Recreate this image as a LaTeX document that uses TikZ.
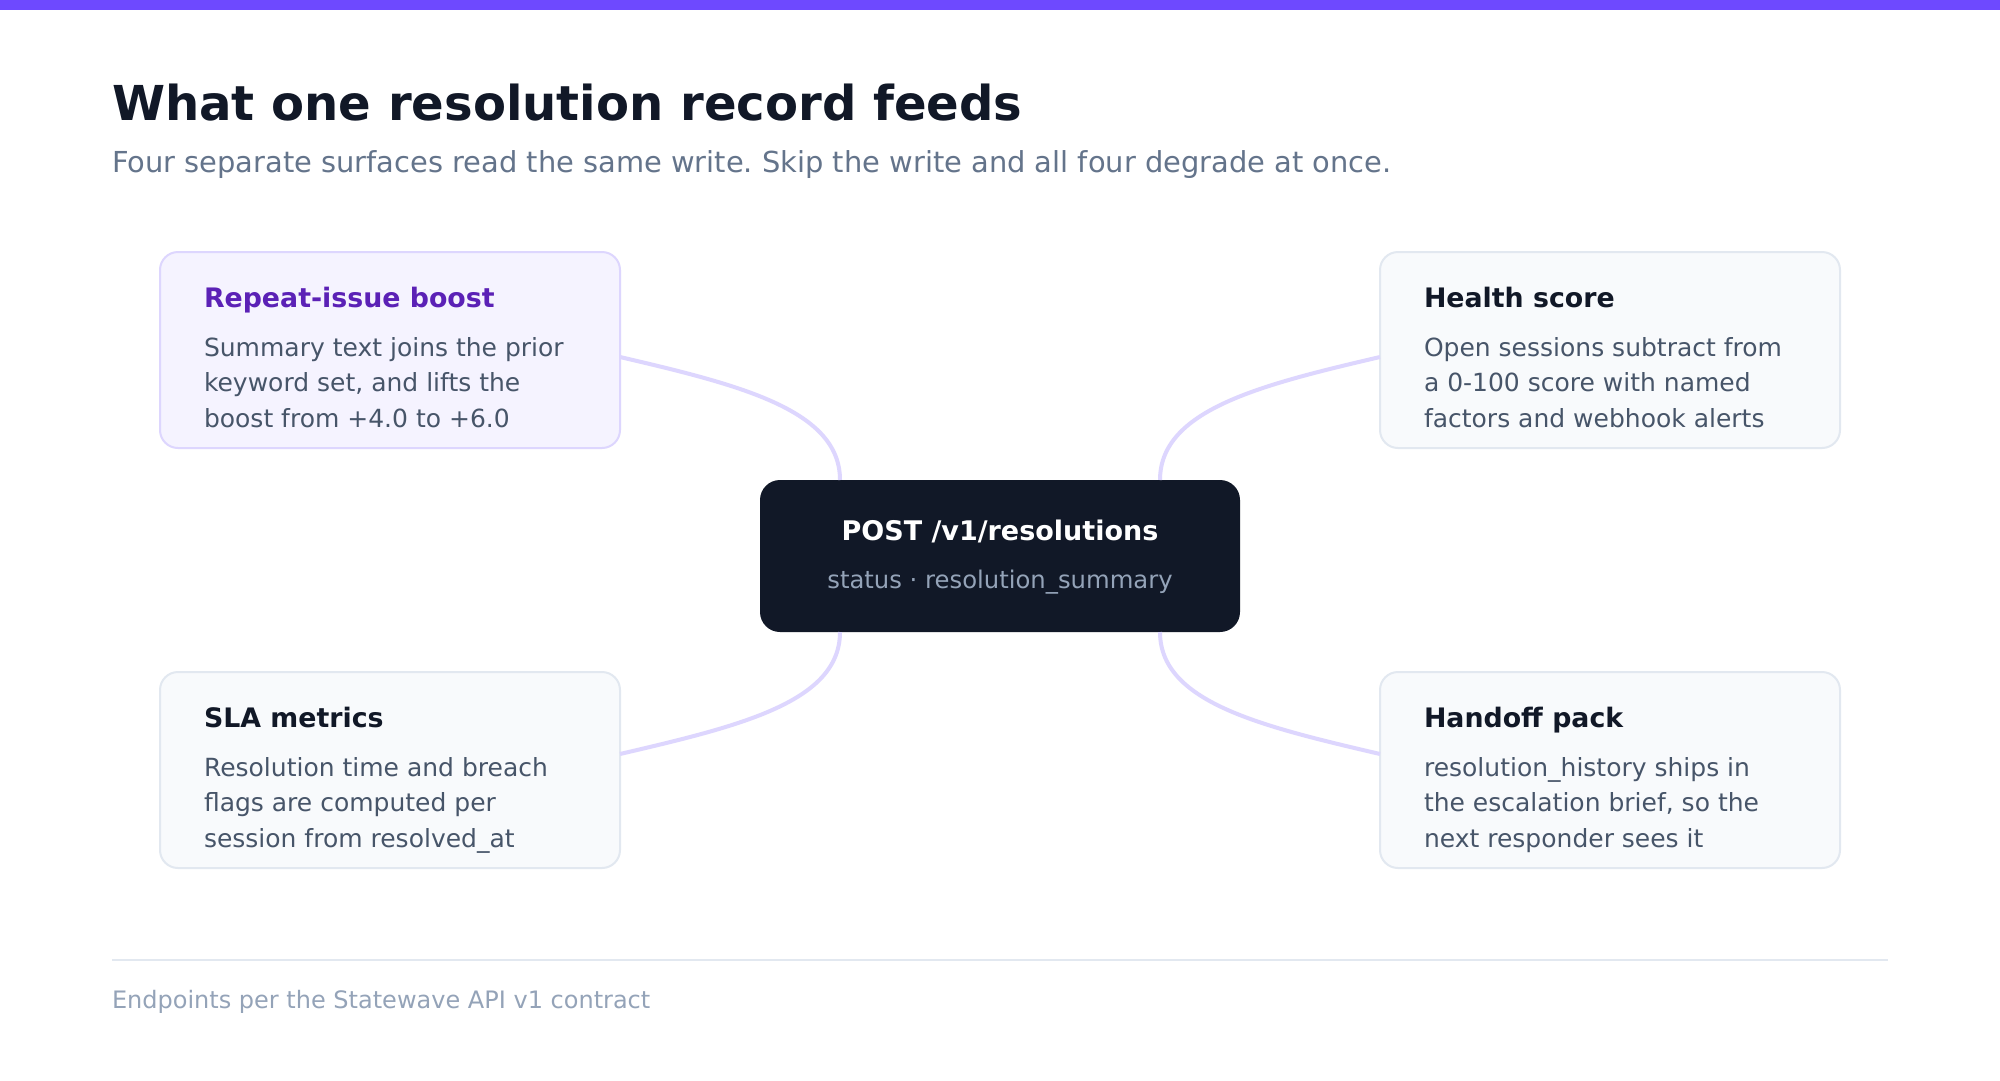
\documentclass[tikz,border=0pt]{standalone}
\usepackage{fontspec}
\setmainfont{DejaVu Sans}
\frenchspacing
\begin{document}
\begin{tikzpicture}[x=1pt,y=-1pt,
  every node/.style={inner sep=0pt,outer sep=0pt},
  purplecard/.style={draw=cardpurpleline,line width=2pt,fill=cardpurple,rounded corners=18pt,minimum width=460pt,minimum height=196pt},
  graycard/.style={draw=cardgrayline,line width=2pt,fill=cardgray,rounded corners=18pt,minimum width=460pt,minimum height=196pt},
  cardtitle/.style={anchor=base west,text=titledark,font=\fontsize{26.8}{30}\selectfont\bfseries},
  cardbody/.style={anchor=base west,text=bodygray,font=\fontsize{25}{30}\selectfont},
  link/.style={draw=linkcol,line width=4pt}
]
\definecolor{barcol}{HTML}{6E49FF}
\definecolor{titledark}{HTML}{111827}
\definecolor{subgray}{HTML}{64748B}
\definecolor{cardpurple}{HTML}{F5F3FF}
\definecolor{cardpurpleline}{HTML}{DDD6FE}
\definecolor{cardgray}{HTML}{F8FAFC}
\definecolor{cardgrayline}{HTML}{E2E8F0}
\definecolor{purpletext}{HTML}{5B21B6}
\definecolor{bodygray}{HTML}{475569}
\definecolor{centerfill}{HTML}{111827}
\definecolor{centersub}{HTML}{94A3B8}
\definecolor{linkcol}{HTML}{DDD6FE}
\definecolor{footgray}{HTML}{94A3B8}

\useasboundingbox[fill=white] (0,0) rectangle (2000,1080);
\fill[barcol] (0,0) rectangle (2000,10);

\node[anchor=base west,text=titledark,font=\fontsize{48.1}{56}\selectfont\bfseries] (title) at (112,120) {What one resolution record feeds};
\node[anchor=base west,text=subgray,font=\fontsize{28.9}{32}\selectfont] (subtitle) at (112,172) {Four separate surfaces read the same write. Skip the write and all four degrade at once.};

% cards
\node[purplecard] (tl) at (390,350) {};
\node[graycard] (tr) at (1610,350) {};
\node[graycard] (bl) at (390,770) {};
\node[graycard] (br) at (1610,770) {};

% center
\node[fill=centerfill,rounded corners=20pt,minimum width=480pt,minimum height=152pt] (center) at (1000,556) {};
\node[anchor=base,text=white,font=\fontsize{27}{32}\selectfont\bfseries] (ctitle) at (1000,540) {POST /v1/resolutions};
\node[anchor=base,text=centersub,font=\fontsize{24.3}{30}\selectfont] (csub) at (1000,588) {status · resolution\_summary};

% connectors
\path (tl.east) ++(0,7) coordinate (tlp);
\path (tr.west) ++(0,7) coordinate (trp);
\path (bl.east) ++(0,-16) coordinate (blp);
\path (br.west) ++(0,-16) coordinate (brp);
\path (center.north west) ++(80,0) coordinate (cnw);
\path (center.north east) ++(-80,0) coordinate (cne);
\path (center.south west) ++(80,0) coordinate (csw);
\path (center.south east) ++(-80,0) coordinate (cse);
\draw[link] (tlp) .. controls +(120,28) and +(0,-70) .. (cnw);
\draw[link] (trp) .. controls +(-120,28) and +(0,-70) .. (cne);
\draw[link] (blp) .. controls +(120,-28) and +(0,70) .. (csw);
\draw[link] (brp) .. controls +(-120,-28) and +(0,70) .. (cse);

% card texts
\node[cardtitle,text=purpletext] (tlt) at (204,307) {Repeat-issue boost};
\node[cardbody] (tl1) at (204,356) {Summary text joins the prior};
\node[cardbody] (tl2) at (204,391) {keyword set, and lifts the};
\node[cardbody] (tl3) at (204,427) {boost from +4.0 to +6.0};

\node[cardtitle] (trt) at (1424,307) {Health score};
\node[cardbody] (tr1) at (1424,356) {Open sessions subtract from};
\node[cardbody] (tr2) at (1424,391) {a 0-100 score with named};
\node[cardbody] (tr3) at (1424,427) {factors and webhook alerts};

\node[cardtitle] (blt) at (204,727) {SLA metrics};
\node[cardbody] (bl1) at (204,776) {Resolution time and breach};
\node[cardbody] (bl2) at (204,811) {flags are computed per};
\node[cardbody] (bl3) at (204,847) {session from resolved\_at};

\node[cardtitle] (brt) at (1424,727) {Handoff pack};
\node[cardbody] (br1) at (1424,776) {resolution\_history ships in};
\node[cardbody] (br2) at (1424,811) {the escalation brief, so the};
\node[cardbody] (br3) at (1424,847) {next responder sees it};

% footer
\coordinate (sepl) at (112,960);
\coordinate (sepr) at (1888,960);
\draw[cardgrayline,line width=2pt] (sepl) -- (sepr);
\node[anchor=base west,text=footgray,font=\fontsize{24}{28}\selectfont] (footer) at (112,1008) {Endpoints per the Statewave API v1 contract};
\end{tikzpicture}
\end{document}
